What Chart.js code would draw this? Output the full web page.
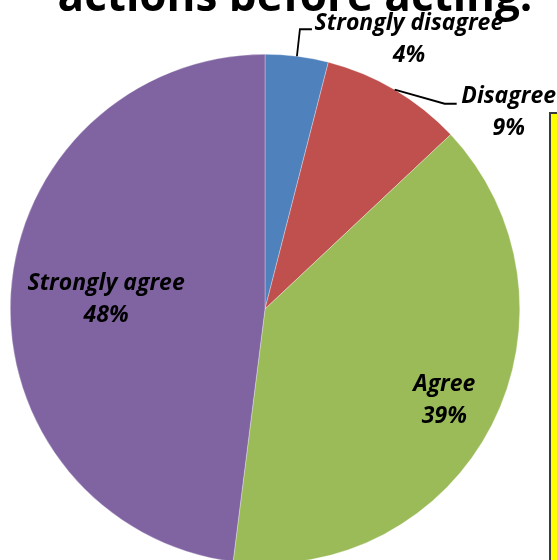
<!DOCTYPE html>
<html>
<head>
<meta charset="utf-8">
<script src="https://cdn.jsdelivr.net/npm/chart.js@4.4.0/dist/chart.umd.min.js"></script>
<style>
  html, body { margin: 0; padding: 0; background: #fff; }
  #wrap { position: relative; width: 557px; height: 560px; overflow: hidden; }
  #notes {
    position: absolute; left: 549px; top: 112px; width: 40px; height: 520px;
    background: #ffff00; border: 2px solid #3a3a3a;
  }
</style>
</head>
<body>
<div id="wrap">
  <canvas id="myChart" width="557" height="580"></canvas>
  <div id="notes"></div>
</div>
<script>
var categories = ['Strongly disagree', 'Disagree', 'Agree', 'Strongly agree'];
var shares = [4, 9, 39, 48];
var sliceColors = ['#4f81bd', '#c0504d', '#9bbb59', '#8064a2'];

// where each slice label sits: inside at a fraction of the radius,
// or outside with an elbow leader line
var placement = [
  { outside: true, elbow: [3, -27], run: 12, text: [97, -6] },
  { outside: true, elbow: [50, 14], run: 12, text: [52, -7] },
  { outside: false, frac: 0.79 },
  { outside: false, frac: 0.625 }
];

var labelFont = 'italic bold 23px "Open Sans"';
var lineGap = 32;

var sliceLabels = {
  id: 'sliceLabels',
  afterDatasetsDraw: function (chart) {
    var ctx = chart.ctx;
    var arcs = chart.getDatasetMeta(0).data;
    var total = shares.reduce(function (a, b) { return a + b; }, 0);
    ctx.save();
    ctx.font = labelFont;
    ctx.fillStyle = '#000';
    ctx.textAlign = 'center';
    ctx.textBaseline = 'middle';
    arcs.forEach(function (arc, i) {
      var p = arc.getProps(['x', 'y', 'startAngle', 'endAngle', 'outerRadius'], true);
      var mid = (p.startAngle + p.endAngle) / 2;
      var pct = Math.round(shares[i] / total * 100) + '%';
      var cfg = placement[i];
      var cx, cy;
      if (cfg.outside) {
        var sx = p.x + Math.cos(mid) * p.outerRadius;
        var sy = p.y + Math.sin(mid) * p.outerRadius;
        var ex = sx + cfg.elbow[0], ey = sy + cfg.elbow[1];
        ctx.beginPath();
        ctx.strokeStyle = '#000';
        ctx.lineWidth = 1.8;
        ctx.moveTo(sx, sy);
        ctx.lineTo(ex, ey);
        ctx.lineTo(ex + cfg.run, ey);
        ctx.stroke();
        cx = ex + cfg.run + cfg.text[0];
        cy = ey + cfg.text[1] + lineGap / 2;
      } else {
        cx = p.x + Math.cos(mid) * p.outerRadius * cfg.frac;
        cy = p.y + Math.sin(mid) * p.outerRadius * cfg.frac;
      }
      ctx.fillText(categories[i], cx, cy - lineGap / 2);
      ctx.fillText(pct, cx, cy + lineGap / 2);
    });
    ctx.restore();
  }
};

// last line of the chart heading, clipped by the top edge
var heading = {
  id: 'heading',
  afterDraw: function (chart) {
    var ctx = chart.ctx;
    ctx.save();
    ctx.font = 'bold 44px "Open Sans"';
    ctx.fillStyle = '#000';
    ctx.textAlign = 'center';
    ctx.textBaseline = 'alphabetic';
    ctx.fillText('actions before acting:', 295, 11);
    ctx.restore();
  }
};

var ctx = document.getElementById('myChart').getContext('2d');
var myChart = new Chart(ctx, {
  type: 'pie',
  data: {
    labels: categories,
    datasets: [{
      data: shares,
      backgroundColor: sliceColors,
      borderColor: 'rgba(255,255,255,0.6)',
      borderWidth: 0.5
    }]
  },
  options: {
    responsive: false,
    devicePixelRatio: 1,
    animation: false,
    layout: { padding: { left: 10, right: 37, top: 54, bottom: 16 } },
    plugins: {
      legend: { display: false },
      tooltip: { enabled: false }
    }
  },
  plugins: [sliceLabels, heading]
});
</script>
</body>
</html>
